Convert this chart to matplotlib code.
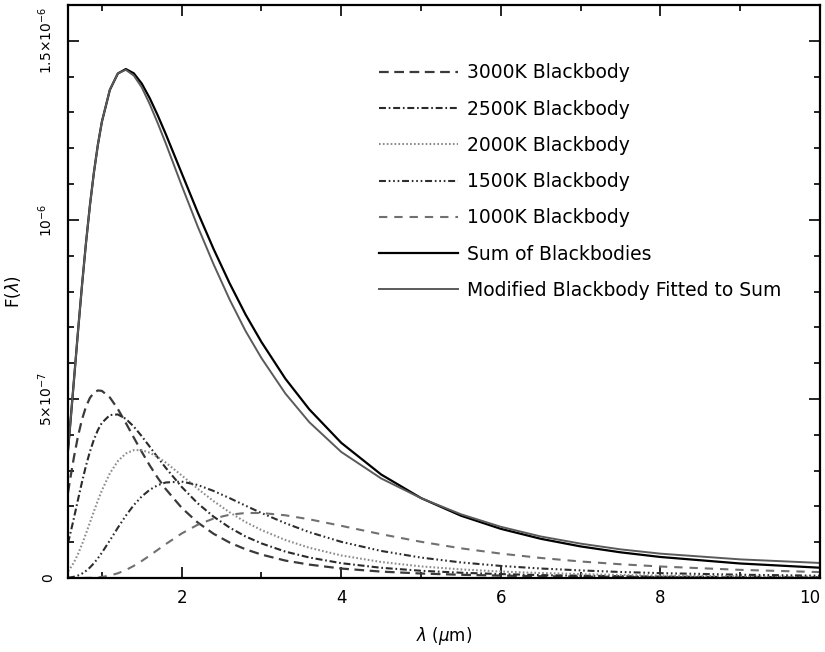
import matplotlib
matplotlib.use('Agg')
import matplotlib.pyplot as plt
from matplotlib.ticker import MultipleLocator


# wavelength grid in microns, fluxes in units of 1e-7
wavelength = [0.575, 0.6, 0.65, 0.7, 0.75, 0.8, 0.85, 0.9, 0.95, 1.0,
              1.1, 1.2, 1.3, 1.4, 1.5, 1.6, 1.7, 1.8, 2.0, 2.2,
              2.4, 2.6, 2.8, 3.0, 3.3, 3.6, 4.0, 4.5, 5.0, 5.5,
              6.0, 6.5, 7.0, 7.5, 8.0, 9.0, 10.0]

bb_3000 = [2.381, 2.725, 3.378, 3.952, 4.422, 4.780, 5.030, 5.176, 5.237, 5.225,
           5.041, 4.719, 4.330, 3.920, 3.522, 3.142, 2.796, 2.484, 1.960, 1.551,
           1.235, 0.991, 0.802, 0.654, 0.486, 0.374, 0.264, 0.179, 0.125, 0.090,
           0.066, 0.050, 0.038, 0.030, 0.023, 0.015, 0.010]

bb_2500 = [0.977, 1.198, 1.680, 2.182, 2.674, 3.129, 3.530, 3.865, 4.133, 4.333,
           4.550, 4.567, 4.444, 4.228, 3.958, 3.665, 3.366, 3.078, 2.544, 2.087,
           1.713, 1.409, 1.160, 0.966, 0.737, 0.572, 0.414, 0.285, 0.202, 0.147,
           0.109, 0.082, 0.064, 0.050, 0.040, 0.026, 0.018]

bb_2000 = [0.191, 0.260, 0.438, 0.666, 0.936, 1.235, 1.548, 1.862, 2.164, 2.446,
           2.923, 3.266, 3.476, 3.570, 3.570, 3.499, 3.377, 3.224, 2.865, 2.495,
           2.147, 1.835, 1.563, 1.339, 1.060, 0.844, 0.630, 0.447, 0.324, 0.240,
           0.181, 0.139, 0.108, 0.085, 0.068, 0.045, 0.031]

bb_1500 = [0.009, 0.015, 0.035, 0.069, 0.122, 0.196, 0.293, 0.412, 0.551, 0.706,
           1.049, 1.404, 1.740, 2.036, 2.279, 2.463, 2.592, 2.667, 2.692, 2.598,
           2.431, 2.231, 2.020, 1.815, 1.530, 1.280, 1.010, 0.756, 0.570, 0.435,
           0.337, 0.265, 0.212, 0.168, 0.136, 0.092, 0.064]

bb_1000 = [0.000, 0.000, 0.000, 0.000, 0.001, 0.003, 0.005, 0.010, 0.018, 0.030,
           0.069, 0.132, 0.222, 0.339, 0.476, 0.628, 0.787, 0.946, 1.243, 1.486,
           1.660, 1.767, 1.815, 1.815, 1.751, 1.639, 1.457, 1.223, 1.011, 0.829,
           0.681, 0.560, 0.461, 0.384, 0.321, 0.227, 0.165]

bb_sum = [3.558, 4.198, 5.530, 6.869, 8.155, 9.342, 10.406, 11.325, 12.103, 12.740,
          13.631, 14.088, 14.212, 14.093, 13.805, 13.397, 12.918, 12.399, 11.305, 10.216,
          9.186, 8.233, 7.360, 6.589, 5.564, 4.708, 3.775, 2.890, 2.232, 1.740,
          1.373, 1.095, 0.882, 0.717, 0.587, 0.405, 0.287]

bb_fit = [3.56, 4.20, 5.53, 6.87, 8.15, 9.34, 10.40, 11.32, 12.10, 12.74,
          13.64, 14.09, 14.19, 14.03, 13.70, 13.23, 12.70, 12.14, 10.96, 9.82,
          8.76, 7.78, 6.90, 6.14, 5.15, 4.35, 3.52, 2.78, 2.23, 1.78,
          1.43, 1.16, 0.96, 0.80, 0.68, 0.52, 0.42]

labels = ['3000K Blackbody', '2500K Blackbody', '2000K Blackbody',
          '1500K Blackbody', '1000K Blackbody', 'Sum of Blackbodies',
          'Modified Blackbody Fitted to Sum']

xtick_vals = [2, 4, 6, 8, 10]
xtick_labels = ['2', '4', '6', '8', '10']
ytick_vals = [0, 5e-7, 1e-6, 1.5e-6]
ytick_labels = ['0', r'$5{\times}10^{-7}$', r'$10^{-6}$', r'$1.5{\times}10^{-6}$']


def plot_data():
    """Plot the blackbody curves."""

    plt.rcParams['font.family'] = ['DejaVu Sans']
    plt.rcParams['mathtext.fontset'] = 'dejavusans'
    plt.rcParams['lines.scale_dashes'] = False

    fig = plt.figure(figsize=(8.25, 6.52), dpi=100)
    ax = fig.add_axes([0.0824, 0.1135, 0.9115, 0.8788])

    styles = [
        dict(color='#3a3a3a', lw=1.6, dashes=(7, 4)),
        dict(color='#2a2a2a', lw=1.5, dashes=(5, 2, 1.2, 2)),
        dict(color='#8c8c8c', lw=1.5, dashes=(1.2, 1.6)),
        dict(color='#2e2e2e', lw=1.5, dashes=(5, 2, 1.2, 2, 1.2, 2, 1.2, 2)),
        dict(color='#707070', lw=1.5, dashes=(6, 5)),
        dict(color='black', lw=1.6),
        dict(color='#5a5a5a', lw=1.4),
    ]
    series = [bb_3000, bb_2500, bb_2000, bb_1500, bb_1000, bb_sum, bb_fit]

    for vals, style, label in zip(series, styles, labels):
        flux = [v * 1e-7 for v in vals]
        ax.plot(wavelength, flux, label=label, **style)

    ax.set_xlim(0.575, 10)
    ax.set_ylim(0, 1.6e-6)

    ax.set_xticks(xtick_vals)
    ax.set_xticklabels(xtick_labels, fontsize=12)
    ax.get_xticklabels()[-1].set_horizontalalignment('right')
    ax.xaxis.set_minor_locator(MultipleLocator(1))
    ax.set_yticks(ytick_vals)
    ax.set_yticklabels(ytick_labels, rotation=90, va='center', fontsize=10)
    ax.yaxis.set_minor_locator(MultipleLocator(1e-7))

    ax.tick_params(which='both', direction='in', top=True, right=True,
                   width=1.2)
    ax.tick_params(which='major', length=8)
    ax.tick_params(which='minor', length=4)
    ax.tick_params(axis='y', pad=9)
    ax.tick_params(axis='x', pad=8)
    for spine in ax.spines.values():
        spine.set_linewidth(1.6)

    ax.set_xlabel(r'$\lambda$ ($\mu$m)', fontsize=12, labelpad=13)
    ax.set_ylabel(r'F($\lambda$)', fontsize=12, labelpad=10)

    ax.legend(loc='upper left', bbox_to_anchor=(0.413, 0.898), frameon=False,
              fontsize=13.5, handlelength=4.25, handletextpad=0.48,
              labelspacing=0.92, borderpad=0, borderaxespad=0)

    plt.savefig('out.png', dpi=100)


if __name__ == '__main__':
    plot_data()
